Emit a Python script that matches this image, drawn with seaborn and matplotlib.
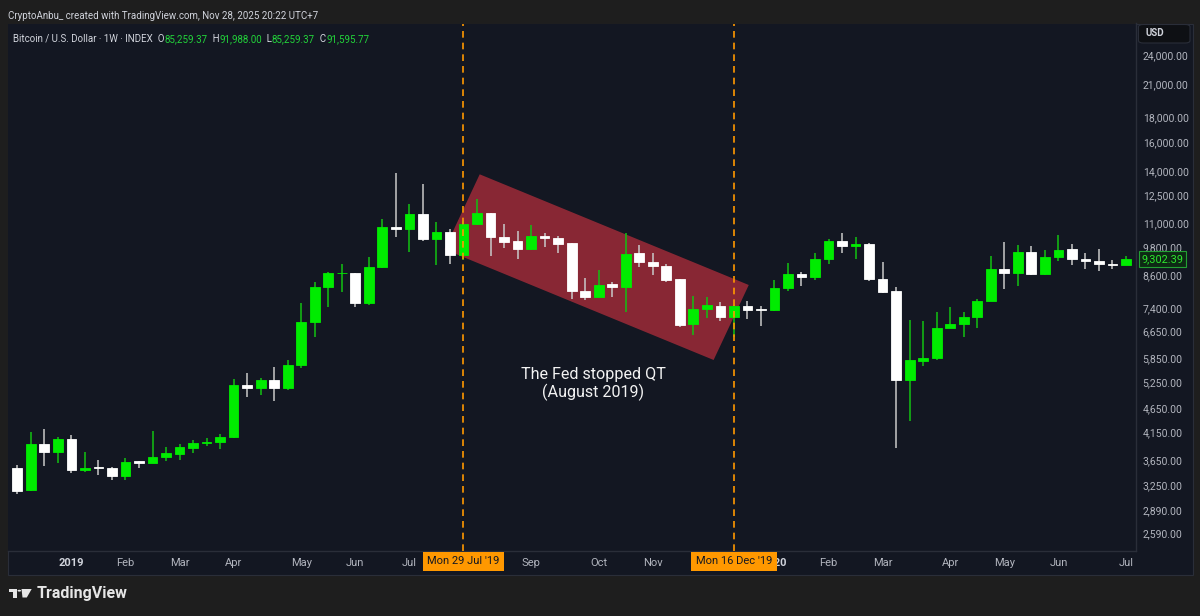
import numpy as np
import pandas as pd
import seaborn as sns
import matplotlib.pyplot as plt
from matplotlib.patches import Polygon, Rectangle, Circle, FancyBboxPatch
from matplotlib.ticker import NullLocator
from matplotlib.transforms import blended_transform_factory

# weekly BTCUSD candles, Dec 2018 .. Jul 2020
first_week = '2018-12-10'
opens = [3511, 3173, 3924, 3792, 4022, 3483, 3531, 3515, 3391, 3636,
         3603, 3697, 3751, 3864, 3955, 3967, 4066, 5172, 5107, 5285,
         5107, 5676, 6932, 8145, 8694, 8700, 7584, 8942, 10769, 10670,
         11455, 10212, 10551, 9468, 10934, 11494, 10294, 10118, 9722, 10356,
         10260, 9997, 8007, 7797, 8261, 8169, 9542, 9177, 9000, 8468,
         6860, 7365, 7480, 7085, 7480, 7354, 7329, 8132, 8667, 8534,
         9293, 10118, 9872, 9950, 8487, 8007, 5294, 5780, 5856, 6751,
         6869, 7085, 7653, 8871, 8694, 9614, 8655, 9393, 9722, 9279,
         9221, 9079, 9051]
highs = [3565, 4149, 4210, 4066, 4100, 3792, 3648, 3530, 3677, 3640,
         4174, 3881, 3924, 4006, 4047, 4118, 5311, 5461, 5333, 5616,
         5809, 7562, 8338, 8761, 9067, 8720, 9365, 11208, 13843, 12003,
         13171, 11054, 10670, 11100, 12283, 11500, 10920, 10601, 10884, 10472,
         10320, 10030, 8497, 8829, 8361, 10472, 9920, 9569, 9067, 8480,
         7825, 7797, 7618, 7500, 7653, 7469, 8429, 9135, 8736, 9542,
         10185, 10472, 10280, 9997, 9177, 8169, 6997, 6965, 7253, 7424,
         7253, 7715, 9423, 10045, 9920, 9888, 9689, 10390, 9965, 9569,
         9722, 9250, 9423]
lows = [3111, 3158, 3547, 3603, 3439, 3456, 3404, 3323, 3323, 3511,
        3600, 3636, 3648, 3773, 3893, 3836, 4036, 4884, 4936, 4808,
        5052, 5600, 6475, 7424, 7983, 7424, 7503, 8900, 10280, 9614,
        10104, 9039, 9079, 9250, 10900, 9437, 9768, 9293, 9700, 9840,
        9569, 7705, 7680, 7770, 7777, 7272, 8942, 8626, 8361, 6763,
        6526, 7053, 6975, 6475, 7020, 6804, 7300, 8007, 8196, 8440,
        9067, 9569, 9279, 8389, 7950, 3864, 4375, 5657, 5800, 6740,
        6457, 6751, 7630, 8071, 8196, 8640, 8640, 9221, 9039, 8859,
        8801, 8890, 9040]
closes = [3158, 3924, 3792, 4018, 3483, 3511, 3521, 3391, 3619, 3603,
          3705, 3764, 3871, 3943, 3967, 4066, 5172, 5107, 5285, 5107,
          5676, 6932, 8157, 8694, 8710, 7584, 8942, 10769, 10670, 11455,
          10212, 10551, 9468, 10934, 11494, 10280, 10071, 9722, 10356, 10231,
          9965, 8007, 7797, 8235, 8169, 9497, 9151, 8996, 8429, 6835,
          7365, 7502, 7085, 7469, 7329, 7329, 8132, 8667, 8534, 9293,
          10118, 9872, 9950, 8456, 7983, 5294, 5809, 5856, 6751, 6869,
          7085, 7653, 8871, 8694, 9614, 8655, 9393, 9689, 9279, 9221,
          9067, 9051, 9302.39]

price_ticks = [24000, 21000, 18000, 16000, 14000, 12500, 11000, 9800, 8600,
               7400, 6650, 5850, 5250, 4650, 4150, 3650, 3250, 2890, 2590]

marked_weeks = ['2019-07-29', '2019-12-16']
marked_labels = ["Mon 29 Jul '19", "Mon 16 Dec '19"]

# the red channel drawing (week offset from first candle, price)
channel_x = [31.6, 34.2, 54.1, 51.5]
channel_y = [9720, 13780, 8235, 5810]

legend_name = 'Bitcoin / U.S. Dollar · 1W · INDEX'
legend_keys = ['O', 'H', 'L', 'C']
legend_vals = ['85,259.37', '91,988.00', '85,259.37', '91,595.77']

W, H = 1200, 616
BG = '#1e1e1e'
PANEL = '#131722'
BORDER = '#2a2e39'
TXT = '#d1d4dc'
AXTXT = '#b2b5be'
GREEN = '#00ec00'
WHITE = '#ffffff'
ORANGE = '#ff9800'


def fx(px):
    return px / W


def fy(py):
    return 1 - py / H


sns.set_theme(style='dark')
plt.rcParams['font.family'] = ['Roboto', 'DejaVu Sans']

fig = plt.figure(figsize=(W / 100, H / 100), dpi=100, facecolor=BG)

# chart panel (plot + price scale + time scale), kept under the axes
fig.patches.append(Rectangle((fx(7.7), fy(575.2)), fx(1193) - fx(7.7), fy(23.5) - fy(575.2),
                             transform=fig.transFigure, facecolor=PANEL,
                             edgecolor=BORDER, lw=0.8, zorder=-1))

ax = fig.add_axes([fx(7.7), fy(550.7), fx(1136) - fx(7.7), fy(23.5) - fy(550.7)])
ax.set_facecolor(PANEL)
ax.grid(False)
for side in ['top', 'left']:
    ax.spines[side].set_visible(False)
for side in ['right', 'bottom']:
    ax.spines[side].set_color(BORDER)
    ax.spines[side].set_linewidth(1)

df = pd.DataFrame({'open': opens, 'high': highs, 'low': lows, 'close': closes})
df['date'] = pd.date_range(first_week, periods=len(df), freq='W-MON')
df['x'] = np.arange(len(df))
up = df['close'] >= df['open']
body_col = np.where(up, GREEN, WHITE)
wick_col = np.where(up, '#12c212', '#c9c9c9')

ax.set_yscale('log')

# channel drawing sits behind the candles
ax.add_patch(Polygon(list(zip(channel_x, channel_y)), closed=True,
                     facecolor='#f23645', alpha=0.53, edgecolor='none', zorder=1.5))

ax.vlines(df['x'], df['low'], df['high'], colors=wick_col, lw=1.1, zorder=2)
ax.bar(df['x'], (df['close'] - df['open']).abs(), bottom=df[['open', 'close']].min(axis=1),
       width=0.72, color=body_col, edgecolor=body_col, linewidth=0.6, zorder=3)

ax.set_xlim(-0.71, 82.74)
ax.set_ylim(2393, 27790)

# price scale
ax.yaxis.tick_right()
ax.yaxis.set_minor_locator(NullLocator())
ax.set_yticks(price_ticks)
ax.set_yticklabels([f'{p:,.2f}' for p in price_ticks])
ax.tick_params(axis='y', length=0, pad=4.8, labelsize=7.5, labelcolor=AXTXT)

marked_idx = [int(df.index[df['date'] == pd.Timestamp(w)][0]) for w in marked_weeks]

# time scale: first candle of each month, year on January;
# month names under the orange date boxes are hidden like on TradingView
tick_pos, tick_lab = [], []
for i in range(1, len(df)):
    d = df['date'][i]
    if d.month != df['date'][i - 1].month:
        if d.month != 1 and min(abs(i - m) for m in marked_idx) < 3:
            continue
        tick_pos.append(i)
        tick_lab.append(str(d.year) if d.month == 1 else d.strftime('%b'))
ax.set_xticks(tick_pos)
ax.set_xticklabels(tick_lab)
ax.tick_params(axis='x', length=0, pad=5.5, labelsize=8, labelcolor=AXTXT)
for t in ax.get_xticklabels():
    if t.get_text().isdigit():
        t.set_fontweight('bold')
        t.set_color(TXT)

bx = blended_transform_factory(ax.transData, ax.transAxes)
for i, lab in zip(marked_idx, marked_labels):
    ax.axvline(i, color=ORANGE, lw=1.2, ls=(0, (4, 3)), zorder=4)
    ax.text(i, -0.02, lab, transform=bx, ha='center', va='center', fontsize=8,
            color='#131722', zorder=10, clip_on=False,
            bbox=dict(boxstyle='square,pad=0.42', fc=ORANGE, ec='none'))

ax.text(42.6, 5200, 'The Fed stopped QT\n(August 2019)', ha='center', va='center',
        fontsize=11.6, color='#f2f2f2', linespacing=1.15, zorder=5)

# last price marker on the scale
by = blended_transform_factory(ax.transAxes, ax.transData)
ax.text(1.005, closes[-1], f'{closes[-1]:,.2f}', transform=by, ha='left', va='center',
        fontsize=7.8, color='#2ee62e', clip_on=False, zorder=10,
        bbox=dict(boxstyle='square,pad=0.25', fc='#0d2914', ec='#23a033', lw=0.8))

# currency button
fig.patches.append(FancyBboxPatch((fx(1138.5), fy(43)), fx(1190) - fx(1138.5), fy(24.5) - fy(43),
                                  boxstyle='round,pad=0,rounding_size=0.004',
                                  transform=fig.transFigure, facecolor='#0e1014',
                                  edgecolor=BORDER, lw=0.8, zorder=3))
fig.text(fx(1145), fy(33.5), 'USD', fontsize=7, fontweight='bold', color=TXT, va='center')

# header and legend
fig.text(fx(7.7), fy(16), 'CryptoAnbu_ created with TradingView.com, Nov 28, 2025 20:22 UTC+7',
         fontsize=7.0, color=TXT, va='center')

renderer = fig.canvas.get_renderer()
pieces = [(legend_name, TXT)]
for k, v in zip(legend_keys, legend_vals):
    pieces.append(('  ' + k, TXT))
    pieces.append((v, '#22d43a'))
xpos = fx(13.4)
for s, c in pieces:
    t = fig.text(xpos, fy(39), s, fontsize=7.0, color=c, va='center')
    xpos += t.get_window_extent(renderer).width / W

# TradingView logo
logo = '#e6e6e6'
fig.patches.append(Rectangle((fx(8.5), fy(592.3)), fx(16.7) - fx(8.5), fy(589) - fy(592.3),
                             transform=fig.transFigure, fc=logo, ec='none'))
fig.patches.append(Rectangle((fx(13.3), fy(597.5)), fx(16.7) - fx(13.3), fy(589) - fy(597.5),
                             transform=fig.transFigure, fc=logo, ec='none'))
fig.patches.append(Circle((fx(19.3), fy(590.7)), 1.8 / W, transform=fig.transFigure,
                          fc=logo, ec='none'))
fig.patches.append(Polygon([(fx(21.5), fy(589)), (fx(31.7), fy(589)),
                            (fx(26.8), fy(597.5)), (fx(22.5), fy(597.5))],
                           closed=True, transform=fig.transFigure, fc=logo, ec='none'))
fig.text(fx(36.5), fy(593.3), 'TradingView', fontsize=11.5, fontweight='bold',
         color=logo, va='center')

fig.savefig('out.png', dpi=100, facecolor=BG)
